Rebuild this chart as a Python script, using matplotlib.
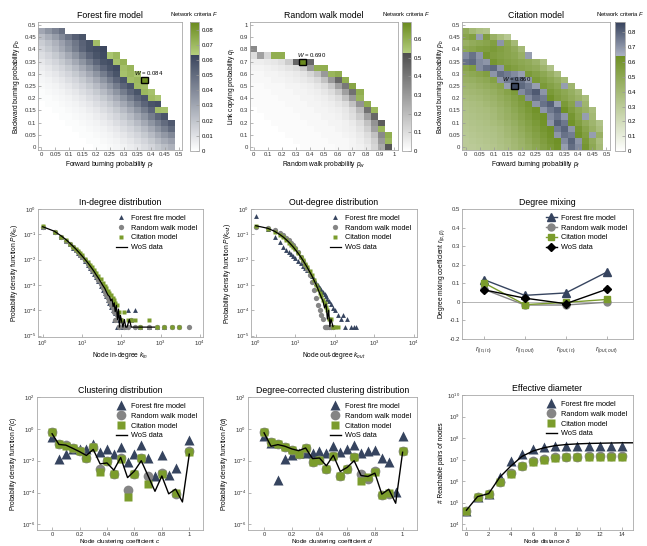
import numpy as np
import matplotlib
matplotlib.use("Agg")
import matplotlib.pyplot as plt
from matplotlib.colors import LinearSegmentedColormap
from matplotlib.patches import Rectangle
from matplotlib.ticker import LogLocator, LogFormatterMathtext, NullLocator, FormatStrFormatter

plt.rcParams["font.family"] = ["Liberation Sans", "DejaVu Sans"]
plt.rcParams["mathtext.fontset"] = "custom"
plt.rcParams["mathtext.rm"] = "Liberation Sans"
plt.rcParams["mathtext.it"] = "Liberation Sans:italic"

# ---------------- heatmap data (rows from bottom, p_b / q_l ascending) ----------------
# forest fire model, F in thousandths, cells of 0.025
ff_rows = [
    [0, 0, 0, 0, 0, 0, 0, 0, 1, 1, 2, 3, 4, 6, 8, 11, 14, 18, 22, 26],
    [0, 0, 0, 0, 0, 0, 0, 1, 1, 2, 3, 4, 6, 8, 11, 14, 18, 23, 28, 32],
    [0, 0, 0, 0, 0, 0, 1, 1, 2, 3, 4, 6, 8, 11, 14, 18, 23, 29, 35, 40],
    [0, 0, 0, 0, 0, 1, 1, 2, 3, 4, 6, 8, 11, 14, 18, 23, 29, 36, 43, 50],
    [0, 0, 0, 0, 1, 1, 2, 3, 4, 6, 8, 11, 14, 18, 23, 29, 36, 43, 50, 56],
    [0, 0, 0, 1, 1, 2, 3, 4, 6, 8, 11, 14, 18, 23, 29, 36, 44, 52, 58],
    [0, 0, 1, 1, 2, 3, 4, 6, 8, 11, 14, 18, 23, 29, 36, 44, 52, 68, 67],
    [0, 1, 1, 2, 3, 4, 6, 8, 11, 14, 18, 23, 29, 36, 44, 52, 58, 60],
    [1, 1, 2, 3, 4, 6, 8, 11, 14, 18, 23, 29, 36, 44, 52, 57, 69, 66],
    [1, 2, 3, 4, 6, 8, 11, 14, 18, 23, 29, 36, 44, 52, 58, 70, 67],
    [2, 3, 4, 6, 8, 11, 14, 18, 23, 29, 36, 44, 52, 58, 69, 68],
    [3, 4, 6, 8, 11, 14, 18, 23, 29, 36, 44, 52, 58, 68, 70, 84],
    [4, 6, 8, 11, 14, 18, 23, 29, 36, 44, 52, 58, 67, 70, 66],
    [6, 8, 11, 14, 18, 23, 29, 36, 44, 52, 58, 61, 68, 71],
    [8, 11, 14, 18, 23, 29, 36, 44, 52, 58, 60, 67, 72],
    [11, 14, 18, 23, 29, 36, 44, 52, 58, 61, 66, 70],
    [14, 18, 23, 29, 36, 44, 52, 58, 60, 62],
    [17, 21, 26, 32, 39, 46, 53, 58, 68],
    [22, 27, 33, 40, 47, 54, 58],
    [30, 36, 42, 48],
]
# random walk model, F in hundredths, cells of 0.05
rw_rows = [
    [0, 0, 0, 0, 0, 0, 0, 1, 1, 1, 1, 1, 2, 2, 3, 4, 6, 12, 25, 50],
    [0, 0, 0, 0, 0, 0, 1, 1, 1, 1, 1, 2, 2, 2, 3, 5, 8, 14, 30, 58],
    [0, 0, 0, 0, 0, 1, 1, 1, 1, 1, 2, 2, 2, 3, 4, 6, 10, 18, 35, 60],
    [0, 0, 0, 0, 1, 1, 1, 1, 1, 2, 2, 2, 3, 4, 5, 8, 14, 28, 58],
    [0, 0, 0, 1, 1, 1, 1, 1, 2, 2, 2, 3, 3, 4, 6, 10, 18, 32, 48],
    [0, 0, 1, 1, 1, 1, 1, 2, 2, 2, 3, 3, 4, 6, 9, 15, 28, 45],
    [0, 1, 1, 1, 1, 1, 2, 2, 2, 3, 3, 4, 5, 7, 11, 20, 42, 58],
    [1, 1, 1, 1, 1, 2, 2, 2, 3, 3, 4, 5, 7, 10, 18, 32, 60],
    [1, 1, 1, 1, 2, 2, 2, 3, 3, 4, 5, 7, 10, 18, 30, 58],
    [1, 1, 1, 2, 2, 2, 3, 3, 4, 5, 7, 10, 16, 28, 42, 60],
    [1, 1, 2, 2, 2, 3, 3, 4, 5, 7, 10, 16, 28, 40, 62],
    [2, 2, 2, 3, 3, 4, 5, 6, 8, 11, 18, 30, 45, 60],
    [2, 2, 3, 3, 4, 5, 6, 8, 12, 18, 30, 58, 60],
    [3, 3, 4, 5, 6, 8, 10, 15, 30, 60, 60],
    [5, 5, 6, 7, 9, 15, 45, 69, 45],
    [10, 28, 12, 60, 60],
    [35],
]
# citation model, F in hundredths, cells of 0.025
cm_rows = [
    [30, 30, 31, 32, 33, 35, 37, 40, 43, 46, 50, 54, 58, 62, 68, 78, 72, 60, 50, 40],
    [30, 31, 32, 33, 34, 36, 38, 41, 44, 48, 52, 56, 60, 63, 72, 80, 70, 58, 48, 38],
    [31, 32, 33, 34, 35, 37, 40, 43, 46, 50, 54, 58, 62, 70, 77, 75, 62, 55, 68, 45],
    [32, 33, 34, 35, 36, 38, 41, 44, 48, 52, 56, 60, 63, 75, 80, 70, 60, 52, 45, 38],
    [33, 34, 35, 36, 38, 40, 43, 46, 50, 54, 58, 62, 70, 81, 76, 62, 55, 48, 42, 35],
    [34, 35, 36, 37, 39, 42, 45, 48, 52, 56, 60, 63, 72, 77, 70, 60, 52, 68, 40],
    [35, 36, 37, 38, 40, 43, 46, 50, 54, 58, 62, 70, 76, 80, 63, 56, 50, 45, 38],
    [36, 37, 38, 40, 42, 45, 48, 52, 56, 60, 70, 77, 81, 68, 58, 52, 70, 42],
    [38, 39, 40, 42, 44, 47, 50, 54, 58, 72, 78, 75, 62, 56, 52, 48, 44, 38],
    [40, 41, 42, 44, 46, 49, 53, 57, 72, 77, 82, 70, 58, 54, 50, 46, 40],
    [42, 43, 45, 47, 49, 52, 68, 86, 79, 75, 68, 58, 54, 50, 68, 42],
    [45, 46, 48, 50, 54, 70, 75, 79, 77, 70, 58, 54, 50, 46, 40],
    [48, 50, 52, 55, 70, 78, 75, 72, 68, 58, 54, 50, 45, 38],
    [52, 56, 72, 77, 79, 70, 58, 55, 52, 50, 48, 42, 35],
    [77, 79, 72, 70, 60, 56, 54, 52, 50, 48, 44, 36],
    [72, 77, 70, 60, 56, 54, 52, 50, 45, 68],
    [50, 52, 55, 56, 58, 55, 52, 48, 40],
    [45, 48, 50, 52, 55, 70, 50, 40],
    [52, 55, 68, 56, 45, 38, 32],
    [48, 40, 36, 34],
]
tick_half = [0, 0.05, 0.1, 0.15, 0.2, 0.25, 0.3, 0.35, 0.4, 0.45, 0.5]
tick_one = [0, 0.1, 0.2, 0.3, 0.4, 0.5, 0.6, 0.7, 0.8, 0.9, 1]

# ---------------- degree distributions (log10 P) ----------------
nan = np.nan
in_k_wos = [1, 2, 3, 4, 5, 6, 7, 8, 9, 10, 12, 14, 16, 18, 20, 23, 26, 30, 34, 38, 42, 46, 50, 54, 58,
            62, 66, 70, 75, 80, 85, 90, 95, 100, 110, 120, 130, 140, 160, 180, 200, 250, 300, 400, 500, 700]
in_wos = [-0.70, -0.88, -1.07, -1.22, -1.36, -1.48, -1.58, -1.68, -1.77, -1.85, -1.99, -2.12, -2.24, -2.35, -2.45,
          -2.60, -2.72, -2.88, -3.02, -3.13, -3.28, -3.40, -3.45, -3.62, -3.55, -3.85, -3.70, -4.05, -3.80, -4.36,
          -3.95, -4.66, -4.20, -4.36, -4.66, -4.36, -4.66, -4.66, -4.36, -4.66, -4.66, -4.66, -4.66, -4.66, -4.66, -4.66]
in_k = [1, 2, 3, 4, 5, 6, 7, 8, 9, 10, 12, 14, 16, 18, 20, 23, 26, 30, 34, 38, 42, 46, 50, 55, 60, 65, 70,
        80, 90, 100, 120, 150, 180, 220, 300, 500, 800, 1200, 2000, 3000, 5400]
in_ff = [-0.72, -0.92, -1.12, -1.27, -1.40, -1.52, -1.63, -1.73, -1.82, -1.90, -2.05, -2.19, -2.32, -2.44, -2.55,
         -2.70, -2.85, -3.02, -3.18, -3.32, -3.45, -3.58, -3.70, -3.85, -4.00, -4.36, -4.10, -4.66, -4.36, -4.66,
         -4.66, -4.00, -4.36, -4.00, -4.66, -4.66, -4.66, -4.66, nan, nan, nan]
in_rw = [-0.70, -0.91, -1.10, -1.25, -1.38, -1.50, -1.61, -1.71, -1.80, -1.88, -2.03, -2.16, -2.28, -2.40, -2.50,
         -2.65, -2.79, -2.96, -3.12, -3.26, -3.40, -3.52, -3.64, -3.78, -3.92, -4.05, -4.36, -4.20, -4.66, -4.36,
         -4.66, -4.66, -4.36, -4.66, -4.66, -4.66, -4.66, -4.66, -4.66, -4.66, -4.66]
in_cm = [-0.69, -0.90, -1.10, -1.24, -1.37, -1.48, -1.58, -1.67, -1.75, -1.83, -1.97, -2.09, -2.20, -2.30, -2.39,
         -2.52, -2.64, -2.78, -2.90, -3.02, -3.12, -3.22, -3.30, -3.40, -3.50, -3.60, -3.70, -3.80, -4.05, -4.36,
         -4.05, -4.36, -4.36, -4.36, -4.66, -4.36, -4.66, -4.66, -4.66, -4.66, nan]

out_k_wos = [1, 2, 3, 4, 5, 6, 7, 8, 9, 10, 12, 14, 16, 18, 20, 23, 26, 30, 34, 38, 42, 46, 50, 55, 60,
             65, 70, 75, 80, 90]
out_wos = [-0.66, -0.76, -0.88, -1.00, -1.11, -1.22, -1.32, -1.42, -1.51, -1.60, -1.76, -1.91, -2.05, -2.18, -2.30,
           -2.47, -2.62, -2.82, -3.00, -3.18, -3.35, -3.50, -3.62, -3.90, -3.75, -4.34, -4.00, -4.64, -4.34, -4.64]
out_k = [1, 2, 3, 4, 5, 6, 7, 8, 9, 10, 12, 14, 16, 18, 20, 23, 26, 30, 34, 38, 42, 46, 50, 55, 60, 65, 70,
         80, 90, 100, 120, 140, 160, 180, 200, 250, 300, 350]
out_ff = [-0.27, -0.80, -1.12, -1.32, -1.48, -1.60, -1.70, -1.78, -1.86, -1.93, -2.05, -2.15, -2.25, -2.34, -2.42,
          -2.54, -2.65, -2.78, -2.90, -3.00, -3.10, -3.18, -3.26, -3.36, -3.45, -3.54, -3.62, -3.76, -3.90, -4.00,
          -4.20, -4.34, -4.20, -4.64, -4.34, -4.64, -4.64, -4.64]
out_rw = [-0.72, -0.74, -0.84, -0.94, -1.04, -1.14, -1.24, -1.34, -1.43, -1.52, -1.70, -1.88, -2.05, -2.20, -2.35,
          -2.62, -2.88, -3.20, -3.50, -3.78, -4.00, -4.20, -4.34, -4.64, -4.64, -4.64, -4.64, -4.64, -4.64,
          nan, nan, nan, nan, nan, nan, nan, nan, nan]
out_cm = [-0.66, -0.78, -0.90, -1.01, -1.12, -1.23, -1.33, -1.42, -1.51, -1.59, -1.75, -1.90, -2.03, -2.16, -2.28,
          -2.45, -2.60, -2.80, -2.98, -3.15, -3.30, -3.45, -3.58, -3.72, -3.88, -4.00, -4.34, -4.34, -4.64, -4.64,
          -4.64, nan, nan, nan, nan, nan, nan, nan]

# ---------------- degree mixing ----------------
mix_labels = ["$r_{(in,in)}$", "$r_{(in,out)}$", "$r_{(out,in)}$", "$r_{(out,out)}$"]
mix_ff = [0.12, 0.035, 0.048, 0.16]
mix_rw = [0.068, -0.017, -0.017, -0.002]
mix_cm = [0.103, -0.015, -0.003, 0.013]
mix_wos = [0.065, 0.02, -0.01, 0.068]
mix_wos_err = [0.012, 0.012, 0.01, 0.012]

# ---------------- clustering (log10 P) ----------------
clus_c = [0, 0.05, 0.1, 0.15, 0.2, 0.25, 0.3, 0.35, 0.4, 0.45, 0.5,
          0.55, 0.6, 0.65, 0.7, 0.75, 0.8, 0.85, 0.9, 0.95, 1.0]
clus_ff = [-0.51, -1.88, -1.59, -1.29, -1.29, -1.29, -0.92, -1.43, -1.29, -1.59, -1.16,
           -2.08, -1.59, -1.02, -1.84, -2.96, -1.63, -2.90, -2.45, nan, -0.71]
clus_rw = [-0.20, -0.92, -1.02, -1.22, -1.39, -1.80, -1.16, -2.55, -2.04, -2.82, -1.84,
           -3.84, -2.86, -1.80, -2.96, nan, -2.76, nan, -4.12, nan, -1.39]
clus_cm = [-0.20, -0.92, -1.06, -1.22, -1.39, -1.84, -1.16, -2.71, -2.04, -2.82, -1.88,
           -4.29, -2.86, -1.84, -3.47, nan, -2.82, nan, -4.04, nan, -1.43]
clus_wos = [-0.31, -0.98, -1.02, -1.22, -1.43, -1.67, -1.29, -2.20, -2.14, -2.59, -1.80,
            -3.06, -2.65, -2.00, -2.96, -3.92, -2.96, -4.08, -3.78, -4.59, -1.59]

dc_ff = [-0.46, -0.90, -3.20, -1.87, -1.66, -1.52, -1.52, -1.52, -1.37, -1.52, -1.09,
         -1.45, -1.24, -1.03, -1.52, -1.37, -1.31, -1.83, -2.08, -3.94, -0.46]
dc_rw = [-0.21, -0.82, -0.95, -1.16, -1.31, -1.58, -1.20, -2.10, -1.94, -2.53, -1.73,
         -2.93, -2.53, -1.79, -2.84, -3.15, -2.66, -4.15, -4.12, nan, -1.41]
dc_cm = [-0.21, -0.82, -0.95, -1.16, -1.31, -1.58, -1.20, -2.10, -1.94, -2.53, -1.73,
         -2.93, -2.53, -1.79, -3.26, -3.05, -2.72, -4.15, -4.04, nan, -1.41]
dc_wos = [-0.25, -1.09, -0.99, -1.09, -1.26, -1.37, -1.20, -1.87, -1.83, -2.32, -1.66,
          -2.67, -2.42, -2.00, -2.93, -2.99, -2.78, -4.10, -3.79, -4.67, -1.47]

# ---------------- effective diameter (log10 pairs) ----------------
dist = [0, 1, 2, 3, 4, 5, 6, 7, 8, 9, 10, 11, 12, 13, 14]
dist_wos = [0, 1, 2, 3, 4, 5, 6, 7, 8, 9, 10, 11, 12, 13, 14, 15]
eff_ff = [4.62, 5.28, 5.42, 6.20, 6.92, 7.28, 7.50, 7.60, 7.64, 7.65, 7.65, 7.65, 7.65, 7.65, 7.65]
eff_rw = [4.62, 5.26, 5.40, 5.98, 6.38, 6.72, 6.92, 7.03, 7.10, 7.13, 7.14, 7.15, 7.15, 7.15, 7.15]
eff_cm = [4.62, 5.28, 5.42, 5.95, 6.35, 6.70, 6.90, 7.00, 7.08, 7.10, 7.12, 7.12, 7.12, 7.12, 7.12]
eff_wos = [4.65, 5.28, 5.42, 6.18, 6.70, 7.15, 7.40, 7.55, 7.65, 7.70, 7.73, 7.75, 7.76, 7.77, 7.78, 7.78]

FF = "#36445f"
RW = "#858585"
CM = "#7b9c2c"
NAMES = ["Forest fire model", "Random walk model", "Citation model", "WoS data"]

fig = plt.figure(figsize=(6.47, 5.46), dpi=100)
W, H = 647, 546


def box(l, t, r, b):
    return [l / W, 1 - b / H, (r - l) / W, (b - t) / H]


def frame(ax):
    for s in ax.spines.values():
        s.set_color("#a8a8a8")
        s.set_linewidth(0.6)
    ax.tick_params(which="both", direction="in", length=2, width=0.5, color="#999999",
                   labelsize=4.3, pad=1.5, labelcolor="#333333")


def p(vals):
    return [10.0 ** v for v in vals]


def heatmap(rect, crect, rows, scale, step, vmax, cmap, ticks, cticks, xlab, ylab, title, best, wtext, wpos):
    n = 21
    m = np.full((n, n), np.nan)
    for j, r in enumerate(rows):
        m[j, :len(r)] = np.array(r) / scale
    ax = fig.add_axes(box(*rect))
    half = step / 2
    ext = [-half, (n - 1) * step + half, -half, (n - 1) * step + half]
    cmap.set_bad("white")
    im = ax.imshow(np.ma.masked_invalid(m), origin="lower", extent=ext, cmap=cmap, vmin=0, vmax=vmax,
                   aspect="auto", interpolation="nearest")
    ax.add_patch(Rectangle((best[0] - half, best[1] - half), step, step, fill=False, ec="black", lw=1.0))
    ax.text(wpos[0], wpos[1], wtext, fontsize=4.3, ha="center", va="center")
    ax.set_xticks(ticks)
    ax.set_yticks(ticks)
    ax.xaxis.set_major_formatter(FormatStrFormatter("%g"))
    ax.yaxis.set_major_formatter(FormatStrFormatter("%g"))
    frame(ax)
    ax.set_xlabel(xlab, fontsize=4.8, labelpad=1.5)
    ax.set_ylabel(ylab, fontsize=4.8, labelpad=1.5)
    ax.set_title(title, fontsize=6.3, pad=3)
    cax = fig.add_axes(box(*crect))
    cb = fig.colorbar(im, cax=cax)
    cb.set_ticks(cticks)
    cb.ax.yaxis.set_major_formatter(FormatStrFormatter("%g"))
    cb.outline.set_edgecolor("#a8a8a8")
    cb.outline.set_linewidth(0.6)
    cb.ax.tick_params(direction="in", length=2, width=0.5, color="#999999", labelsize=4.3, pad=2)
    fig.text((crect[0] + crect[2]) / 2 / W, 1 - 14 / H, "Network criteria $F$", fontsize=4.2, ha="center", va="center")


def two_tone(name, lo, mid, hi_lo, hi, t):
    return LinearSegmentedColormap.from_list(name, [(0, lo), (t, mid), (t, hi_lo), (1, hi)], N=512)


heatmap((38, 22, 182, 150), (190, 22, 199, 151), ff_rows, 1000, 0.025, 0.085,
        two_tone("ff", "white", "#39445c", "#b3cd7c", "#6a8a1e", 0.0635 / 0.085),
        tick_half, [0, 0.01, 0.02, 0.03, 0.04, 0.05, 0.06, 0.07, 0.08],
        "Forward burning probability $p_f$", "Backward burning probability $p_b$",
        "Forest fire model", (0.375, 0.275), "$W$ = 0.084", (0.39, 0.305))
heatmap((250, 22, 398, 150), (402, 22, 411, 151), rw_rows, 100, 0.05, 0.69,
        two_tone("rw", "white", "#4e4e4e", "#b3cd7c", "#6a8a1e", 0.525 / 0.69),
        tick_one, [0, 0.1, 0.2, 0.3, 0.4, 0.5, 0.6],
        "Random walk probability $p_w$", "Link copying probability $q_l$",
        "Random walk model", (0.35, 0.7), "$W$ = 0.690", (0.41, 0.755))
heatmap((462, 22, 610, 150), (615, 22, 625, 151), cm_rows, 100, 0.025, 0.87,
        two_tone("cm", "white", "#6d8f22", "#a9b0c1", "#36425c", 0.645 / 0.87),
        tick_half, [0, 0.1, 0.2, 0.3, 0.4, 0.5, 0.6, 0.7, 0.8],
        "Forward burning probability $p_f$", "Backward burning probability $p_b$",
        "Citation model", (0.175, 0.25), "$W$ = 0.860", (0.183, 0.277))


def loglog_axes(rect, title, xlab, ylab):
    ax = fig.add_axes(box(*rect))
    ax.set_xscale("log")
    ax.set_yscale("log")
    ax.set_xlim(10 ** -0.12, 10 ** 4.08)
    ax.set_ylim(10 ** -5.05, 1)
    ax.xaxis.set_major_locator(LogLocator(base=10, numticks=10))
    ax.yaxis.set_major_locator(LogLocator(base=10, numticks=10))
    ax.xaxis.set_minor_locator(NullLocator())
    ax.yaxis.set_minor_locator(NullLocator())
    ax.xaxis.set_major_formatter(LogFormatterMathtext())
    ax.yaxis.set_major_formatter(LogFormatterMathtext())
    frame(ax)
    ax.set_title(title, fontsize=6.3, pad=3)
    ax.set_xlabel(xlab, fontsize=4.8, labelpad=1.5)
    ax.set_ylabel(ylab, fontsize=4.8, labelpad=1.5)
    return ax


def small_legend(ax):
    return ax.legend(loc="upper right", frameon=False, fontsize=5.3, handlelength=1.6,
                     handletextpad=0.5, labelspacing=0.35, borderaxespad=0.4)


ax = loglog_axes((38, 209, 203, 337), "In-degree distribution", "Node in-degree $k_{in}$",
                 "Probability density function $P(k_{in})$")
ax.plot(in_k, p(in_ff), "^", color=FF, ms=3.5, mec="none", label=NAMES[0])
ax.plot(in_k, p(in_rw), "o", color=RW, ms=3.8, mec="none", label=NAMES[1])
ax.plot(in_k, p(in_cm), "s", color=CM, ms=3.3, mec="none", label=NAMES[2])
ax.plot(in_k_wos, p(in_wos), "-", color="black", lw=0.9, label=NAMES[3])
small_legend(ax)

ax = loglog_axes((251, 209, 417, 337), "Out-degree distribution", "Node out-degree $k_{out}$",
                 "Probability density function $P(k_{out})$")
ax.plot(out_k, p(out_ff), "^", color=FF, ms=3.5, mec="none", label=NAMES[0])
ax.plot(out_k, p(out_rw), "o", color=RW, ms=3.8, mec="none", label=NAMES[1])
ax.plot(out_k, p(out_cm), "s", color=CM, ms=3.3, mec="none", label=NAMES[2])
ax.plot(out_k_wos, p(out_wos), "-", color="black", lw=0.9, label=NAMES[3])
small_legend(ax)

# degree mixing
ax = fig.add_axes(box(462, 209, 633, 339))
xs = [1, 2, 3, 4]
ax.axhline(0, color="#aaaaaa", lw=0.6, zorder=0)
ax.plot(xs, mix_ff, "-^", color=FF, ms=5.5, lw=1.0, label=NAMES[0])
ax.plot(xs, mix_rw, "-o", color=RW, ms=5.0, lw=1.0, label=NAMES[1])
ax.plot(xs, mix_cm, "-s", color=CM, ms=4.6, lw=1.0, label=NAMES[2])
ax.errorbar(xs, mix_wos, yerr=mix_wos_err, fmt="-D", color="black", ms=4.2, lw=1.0,
            elinewidth=0.8, capsize=0, label=NAMES[3])
ax.set_xlim(0.47, 4.64)
ax.set_ylim(-0.2, 0.5)
ax.set_xticks(xs)
ax.set_xticklabels(mix_labels)
ax.set_yticks([-0.2, -0.1, 0, 0.1, 0.2, 0.3, 0.4, 0.5])
ax.yaxis.set_major_formatter(FormatStrFormatter("%g"))
frame(ax)
ax.tick_params(axis="x", labelsize=5, pad=4)
ax.set_title("Degree mixing", fontsize=6.3, pad=3)
ax.set_ylabel(r"Degree mixing coefficient $r_{(\alpha,\beta)}$", fontsize=4.8, labelpad=1.5)
small_legend(ax)


def clus_axes(rect, title, xlab, ylab, xlim):
    ax = fig.add_axes(box(*rect))
    ax.set_yscale("log")
    ax.set_ylim(10 ** -6.35, 1e2)
    ax.set_xlim(*xlim)
    ax.set_yticks([1e-6, 1e-4, 1e-2, 1e0, 1e2])
    ax.yaxis.set_minor_locator(NullLocator())
    ax.yaxis.set_major_formatter(LogFormatterMathtext())
    ax.set_xticks([0, 0.2, 0.4, 0.6, 0.8, 1])
    ax.xaxis.set_major_formatter(FormatStrFormatter("%g"))
    frame(ax)
    ax.tick_params(axis="x", labelsize=4.2, pad=1.2)
    ax.set_title(title, fontsize=6.3, pad=3)
    ax.set_xlabel(xlab, fontsize=4.6, labelpad=0.5)
    ax.set_ylabel(ylab, fontsize=4.8, labelpad=1.5)
    return ax


def big_series(ax, x, ff, rw, cm, xw, wos):
    ax.plot(x, p(ff), "^", color=FF, ms=7.0, mec="none", label=NAMES[0])
    ax.plot(x, p(rw), "o", color=RW, ms=7.0, mec="none", label=NAMES[1])
    ax.plot(x, p(cm), "s", color=CM, ms=6.0, mec="none", label=NAMES[2])
    ax.plot(xw, p(wos), "-", color="black", lw=1.0, label=NAMES[3])
    small_legend(ax)


ax = clus_axes((37, 397, 203, 530), "Clustering distribution", "Node clustering coefficient $c$",
               "Probability density function $P(c)$", (-0.11, 1.1))
big_series(ax, clus_c, clus_ff, clus_rw, clus_cm, clus_c, clus_wos)

ax = clus_axes((248, 397, 417, 530), "Degree-corrected clustering distribution",
               "Node clustering coefficient $d$", "Probability density function $P(d)$", (-0.116, 1.104))
big_series(ax, clus_c, dc_ff, dc_rw, dc_cm, clus_c, dc_wos)

# effective diameter
ax = fig.add_axes(box(462, 395, 633, 530))
ax.set_yscale("log")
ax.set_ylim(10 ** 3.73, 1e10)
ax.set_xlim(-0.4, 15.0)
ax.set_yticks([1e4, 1e5, 1e6, 1e7, 1e8, 1e9, 1e10])
ax.yaxis.set_minor_locator(NullLocator())
ax.yaxis.set_major_formatter(LogFormatterMathtext())
ax.set_xticks([0, 2, 4, 6, 8, 10, 12, 14])
frame(ax)
ax.tick_params(axis="x", labelsize=4.2, pad=1.2)
big_series(ax, dist, eff_ff, eff_rw, eff_cm, dist_wos, eff_wos)
ax.set_title("Effective diameter", fontsize=6.3, pad=3)
ax.set_xlabel(r"Node distance $\delta$", fontsize=4.6, labelpad=0.5)
ax.set_ylabel("# Reachable pairs of nodes", fontsize=4.8, labelpad=1.5)

fig.savefig("out.png", dpi=100)
